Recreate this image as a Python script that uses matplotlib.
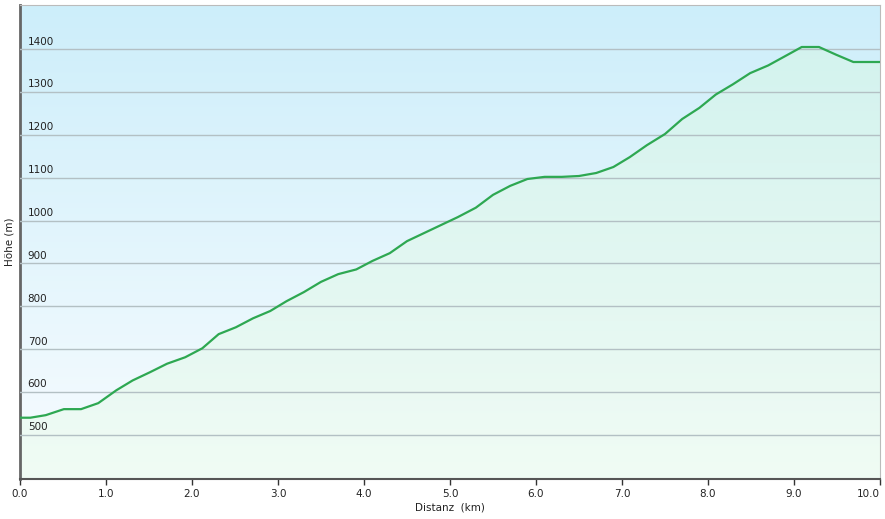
import numpy as np
import matplotlib
matplotlib.use("Agg")
import matplotlib.pyplot as plt
from matplotlib.colors import LinearSegmentedColormap

# elevation profile
dist_km = [0.0, 0.12, 0.3, 0.51, 0.71, 0.91, 1.12, 1.31, 1.51, 1.71, 1.92, 2.12,
           2.31, 2.51, 2.71, 2.91, 3.10, 3.30, 3.50, 3.70, 3.91, 4.10, 4.30, 4.50,
           4.70, 4.90, 5.09, 5.30, 5.50, 5.70, 5.90, 6.10, 6.30, 6.50, 6.70, 6.90,
           7.09, 7.29, 7.50, 7.70, 7.90, 8.09, 8.29, 8.49, 8.70, 8.90, 9.09, 9.29,
           9.49, 9.69, 9.88, 10.0]
height_m = [540, 540, 546, 560, 560, 574, 604, 627, 646, 666, 681, 702,
            735, 751, 772, 789, 812, 833, 857, 875, 886, 906, 924, 952,
            971, 990, 1008, 1030, 1060, 1081, 1097, 1102, 1102, 1104, 1111, 1125,
            1148, 1176, 1202, 1237, 1263, 1294, 1318, 1344, 1362, 1384, 1405, 1405,
            1387, 1370, 1370, 1370]

x_ticks = np.arange(0, 10.01, 1.0)
y_ticks = np.arange(500, 1401, 100)

xmin, xmax = 0, 10
ymin, ymax = 397, 1503

fig = plt.figure(figsize=(8.85, 5.19), dpi=100)
ax = fig.add_axes([20 / 885, 40 / 519, 860 / 885, 474 / 519])
ax.set_xlim(xmin, xmax)
ax.set_ylim(ymin, ymax)

# background gradient
bg = LinearSegmentedColormap.from_list("bg", ["#f8fcff", "#cdeefa"])
grad = np.linspace(0, 1, 256).reshape(-1, 1)
ax.imshow(grad, cmap=bg, aspect="auto", origin="lower",
          extent=[xmin, xmax, ymin, ymax], zorder=0)

# green gradient fill under the profile
fill = LinearSegmentedColormap.from_list("fill", ["#effcf2", "#d2f3ec"])
img = ax.imshow(grad, cmap=fill, aspect="auto", origin="lower",
                extent=[xmin, xmax, ymin, ymax], zorder=2, alpha=0.85)
poly = ax.fill_between(dist_km, height_m, ymin, color="none", lw=0)
clip = poly.get_paths()[0]
img.set_clip_path(clip, transform=ax.transData)

# gridlines
for y in y_ticks:
    ax.axhline(y, color="#b3c0c4", lw=1, zorder=3)

ax.plot(dist_km, height_m, color="#2ea852", lw=1.6, zorder=4)

# y labels sit inside the plot, above each gridline
for y in y_ticks:
    ax.text(0.09, y + 6, f"{y:.0f}", fontsize=7.5, color="#222222",
            ha="left", va="bottom", zorder=5)
ax.set_yticks([])
ax.set_xticks(x_ticks)
ax.set_xticklabels([f"{v:.1f}" for v in x_ticks], fontsize=7.5, color="#222222")
ax.get_xticklabels()[-1].set_ha("right")
ax.tick_params(axis="x", length=4, width=1, color="#333333", pad=3)

ax.set_xlabel("Distanz  (km)", fontsize=7.5, color="#222222", labelpad=3)
ax.set_ylabel("Höhe (m)", fontsize=7.5, color="#222222", labelpad=4)

ax.spines["left"].set_color("#666666")
ax.spines["left"].set_linewidth(2)
ax.spines["bottom"].set_color("#555555")
ax.spines["bottom"].set_linewidth(1.5)
ax.spines["top"].set_color("#bbbbbb")
ax.spines["right"].set_color("#bbbbbb")

fig.savefig("out.png", dpi=100)
